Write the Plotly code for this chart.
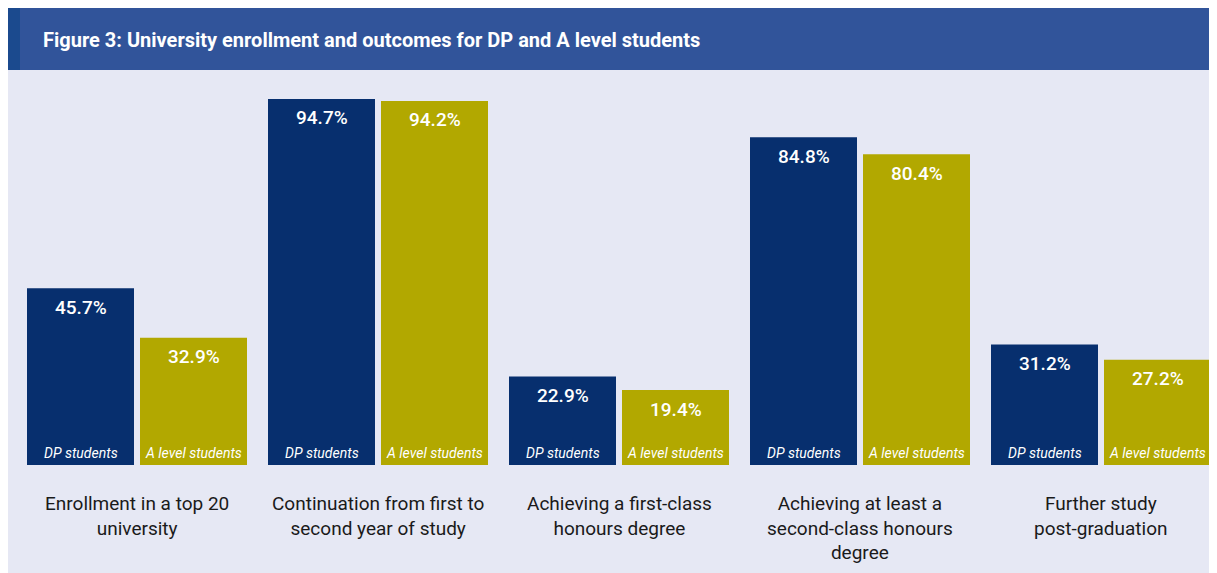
import plotly.graph_objects as go

categories = [
    "Enrollment in a top 20<br>university",
    "Continuation from first to<br>second year of study",
    "Achieving a first-class<br>honours degree",
    "Achieving at least a<br>second-class honours<br>degree",
    "Further study<br>post-graduation",
]
dp_values = [45.7, 94.7, 22.9, 84.8, 31.2]
alevel_values = [32.9, 94.2, 19.4, 80.4, 27.2]
series_names = ["DP students", "A level students"]
title_text = "Figure 3: University enrollment and outcomes for DP and A level students"

DP_COLOR = "#072F6E"
AL_COLOR = "#B2A800"
BG = "#E6E8F4"
HEADER = "#31549A"
STRIP = "#1B4A8E"
FONT = "Roboto, Arial, sans-serif"

# page is shown with an 8px body margin, so the figure is sized to fit
W, H = 1209, 565
ml, mr, mt, mb = 8, 0, 62, 108
pw, ph = W - ml - mr, H - mt - mb
GROUP_PX = 241.0
PX_PER_UNIT = 3.865
BAR_OFFSET = 56.5


def px_x(x):
    return (x - ml) / pw


def px_y(y):
    return (H - mb - y) / ph


x_idx = list(range(len(categories)))

fig = go.Figure()
for name, vals, col in [(series_names[0], dp_values, DP_COLOR), (series_names[1], alevel_values, AL_COLOR)]:
    fig.add_trace(go.Bar(
        x=x_idx, y=vals, name=name, marker=dict(color=col, line=dict(width=0)),
        hoverinfo="skip", showlegend=False,
    ))

annotations = []
for i in x_idx:
    for j, (name, vals) in enumerate([(series_names[0], dp_values), (series_names[1], alevel_values)]):
        shift = -BAR_OFFSET if j == 0 else BAR_OFFSET
        annotations.append(dict(
            x=i, y=vals[i], xref="x", yref="y", xshift=shift, yshift=-19,
            text=f"{vals[i]:.1f}%", showarrow=False, yanchor="middle",
            font=dict(family=FONT, size=19, color="white", weight=500),
        ))
        annotations.append(dict(
            x=i, y=0, xref="x", yref="y", xshift=shift, yshift=12,
            text=f"<i>{name}</i>", showarrow=False, yanchor="middle",
            font=dict(family=FONT, size=14, color="white"),
        ))
    annotations.append(dict(
        x=i, y=0, xref="x", yref="y", yshift=-25, yanchor="top",
        text=categories[i], showarrow=False,
        font=dict(family=FONT, size=19, color="#1a1a1a"),
    ))

annotations.append(dict(
    x=px_x(33), y=px_y(32), xref="paper", yref="paper", text=f"<b>{title_text}</b>",
    showarrow=False, xanchor="left", yanchor="middle",
    font=dict(family=FONT, size=20, color="white"),
))

shapes = [
    dict(type="rect", xref="paper", yref="paper",
         x0=px_x(0), x1=px_x(W + 2), y0=px_y(H + 2), y1=px_y(62),
         fillcolor=BG, line=dict(width=0), layer="below"),
    dict(type="rect", xref="paper", yref="paper",
         x0=px_x(0), x1=px_x(W + 2), y0=px_y(62), y1=px_y(-1),
         fillcolor=HEADER, line=dict(width=0), layer="below"),
    dict(type="rect", xref="paper", yref="paper",
         x0=px_x(-1), x1=px_x(12), y0=px_y(62), y1=px_y(-1),
         fillcolor=STRIP, line=dict(width=0), layer="below"),
]

x0 = -121 / GROUP_PX
fig.update_layout(
    width=W, height=H,
    margin=dict(l=ml, r=mr, t=mt, b=mb, pad=0),
    paper_bgcolor="white", plot_bgcolor=BG,
    barmode="group", bargap=15 / GROUP_PX, bargroupgap=6 / 113,
    xaxis=dict(range=[x0, x0 + pw / GROUP_PX], showticklabels=False, showgrid=False,
               zeroline=False, showline=False, ticks="", fixedrange=True),
    yaxis=dict(range=[0, ph / PX_PER_UNIT], visible=False, showgrid=False, zeroline=False, fixedrange=True),
    annotations=annotations, shapes=shapes,
)

fig.write_html("out.html")
